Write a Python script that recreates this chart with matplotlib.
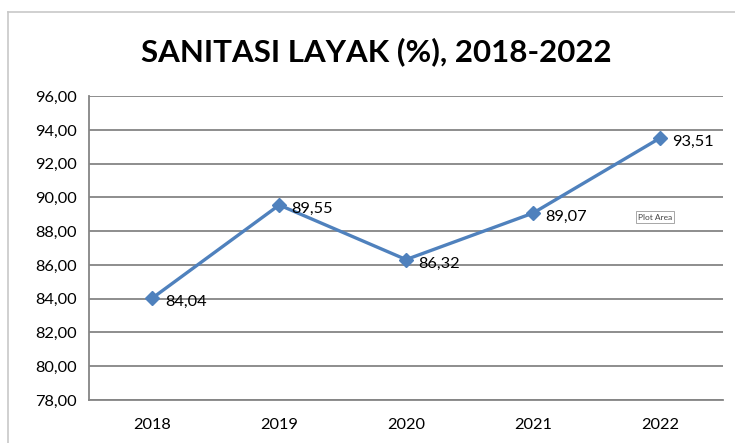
import matplotlib.pyplot as plt
from matplotlib.ticker import FuncFormatter, MultipleLocator
from matplotlib.lines import Line2D

tahun = ['2018', '2019', '2020', '2021', '2022']
sanitasi = [84.04, 89.55, 86.32, 89.07, 93.51]

plt.rcParams['font.family'] = ['Lato', 'DejaVu Sans']

fig = plt.figure(figsize=(7.35, 4.43), dpi=100)
ax = fig.add_axes([0.121, 0.097, 0.863, 0.686])

x = range(len(tahun))
ax.plot(x, sanitasi, color='#4F81BD', lw=2.4, marker='D', markersize=7, zorder=3)
for i, v in enumerate(sanitasi):
    ax.annotate(f'{v:.2f}'.replace('.', ','), (i, v), xytext=(9, -3),
                textcoords='offset points', ha='left', va='center', fontsize=11.8)

ax.set_xlim(-0.5, len(tahun) - 0.5)
ax.set_ylim(78, 96)
ax.yaxis.set_major_locator(MultipleLocator(2))
ax.yaxis.set_major_formatter(FuncFormatter(lambda v, p: f'{v:.2f}'.replace('.', ',')))
ax.set_xticks(list(x))
ax.set_xticklabels(tahun)
ax.tick_params(length=0, labelsize=11.8, colors='black')
ax.tick_params(axis='x', pad=13)
ax.tick_params(axis='y', pad=9)
ax.grid(axis='y', color='#858585', lw=1.3)
ax.set_axisbelow(True)
for s in ['top', 'right']:
    ax.spines[s].set_visible(False)
for s in ['left', 'bottom']:
    ax.spines[s].set_color('#858585')
    ax.spines[s].set_linewidth(1.3)

fig.text(0.512, 0.884, 'SANITASI LAYAK (%), 2018-2022', ha='center', va='center',
         fontsize=22.5, fontweight='bold')

# chart frame
fig.add_artist(Line2D([0.011, 0.011], [0, 0.973], color='#c8c8c8', lw=1.2))
fig.add_artist(Line2D([0.011, 1], [0.973, 0.973], color='#c8c8c8', lw=1.2))

fig.text(0.868, 0.51, 'Plot Area', fontsize=6, ha='left', va='center', color='#444444',
         bbox=dict(boxstyle='square,pad=0.25', fc='white', ec='#999999', lw=0.6))

fig.savefig('out.png', dpi=100)
